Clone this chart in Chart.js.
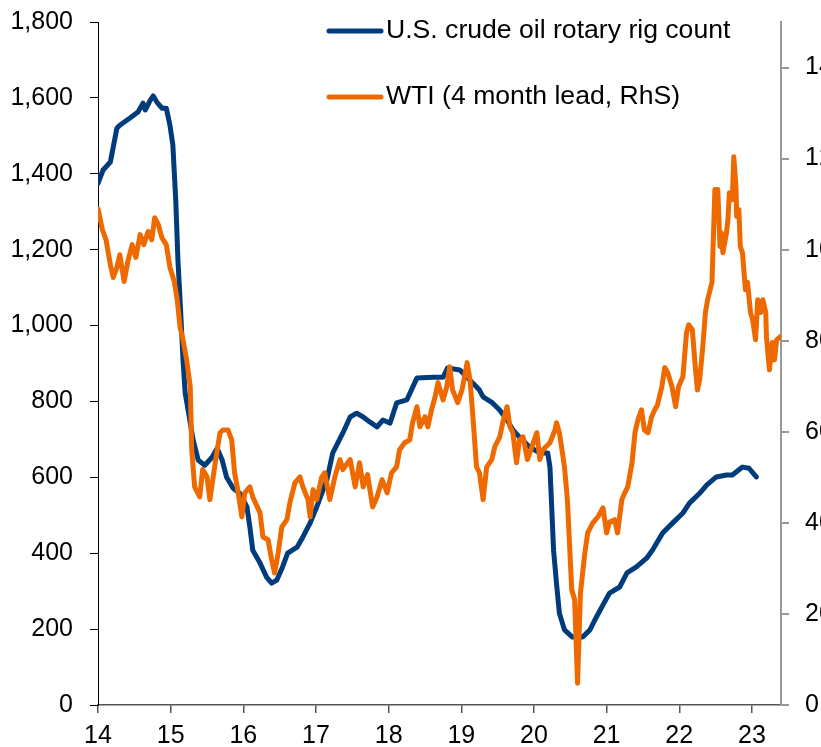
<!DOCTYPE html>
<html>
<head>
<meta charset="utf-8">
<script src="https://cdn.jsdelivr.net/npm/chart.js@4.4.1/dist/chart.umd.min.js"></script>
<style>
html, body { margin: 0; padding: 0; background: #fff; overflow: hidden; }
#wrap { width: 821px; height: 747px; overflow: hidden; }
canvas { display: block; }
</style>
</head>
<body>
<div id="wrap"><canvas id="c" width="860" height="747"></canvas></div>
<script>
// years are 2-digit decimal years (14 = Jan 2014)
var rigLabel = 'U.S. crude oil rotary rig count';
var wtiLabel = 'WTI (4 month lead, RhS)';

var rigYears = [14.00,14.07,14.17,14.26,14.30,14.44,14.55,14.62,14.65,14.72,14.76,14.81,14.88,14.94,14.99,15.03,15.07,15.10,15.13,15.17,15.20,15.31,15.38,15.47,15.57,15.64,15.71,15.77,15.86,15.95,16.05,16.09,16.13,16.23,16.32,16.39,16.46,16.54,16.61,16.74,16.82,16.92,17.01,17.15,17.23,17.37,17.47,17.56,17.65,17.74,17.84,17.92,18.02,18.11,18.25,18.39,18.61,18.75,18.81,18.98,19.12,19.25,19.30,19.43,19.53,19.63,19.71,19.80,19.94,20.08,20.19,20.22,20.24,20.27,20.31,20.35,20.42,20.53,20.67,20.77,20.86,20.95,21.04,21.18,21.28,21.41,21.55,21.63,21.77,21.91,22.05,22.14,22.28,22.38,22.51,22.65,22.73,22.87,22.96,23.06];
var rigCount = [1375,1410,1431,1520,1528,1547,1563,1586,1568,1594,1605,1589,1573,1573,1528,1476,1331,1173,1067,909,822,698,645,632,653,677,645,600,571,558,522,469,408,374,337,321,329,364,400,416,443,480,522,593,664,717,759,769,759,746,733,751,743,796,804,862,864,864,888,883,856,830,812,796,777,751,725,706,680,664,664,627,540,408,321,242,198,179,179,198,232,264,295,311,348,364,387,408,453,480,506,532,558,580,601,606,606,627,624,601];

var wtiYears = [14.00,14.06,14.11,14.17,14.21,14.26,14.30,14.36,14.41,14.47,14.52,14.58,14.63,14.69,14.74,14.78,14.83,14.88,14.94,14.99,15.05,15.09,15.13,15.17,15.22,15.27,15.29,15.33,15.40,15.44,15.50,15.54,15.58,15.64,15.68,15.72,15.79,15.84,15.88,15.93,15.98,16.02,16.09,16.13,16.23,16.27,16.34,16.39,16.43,16.48,16.53,16.60,16.64,16.71,16.78,16.82,16.89,16.92,16.96,17.01,17.08,17.12,17.19,17.26,17.33,17.37,17.47,17.54,17.60,17.65,17.71,17.78,17.84,17.91,17.98,18.04,18.11,18.15,18.22,18.29,18.33,18.39,18.43,18.50,18.54,18.59,18.64,18.68,18.75,18.80,18.84,18.88,18.95,19.01,19.08,19.12,19.16,19.21,19.25,19.30,19.35,19.42,19.46,19.53,19.57,19.63,19.67,19.71,19.76,19.80,19.85,19.91,19.97,20.04,20.08,20.12,20.22,20.29,20.31,20.35,20.40,20.42,20.46,20.52,20.56,20.60,20.64,20.70,20.74,20.81,20.88,20.95,21.00,21.04,21.11,21.15,21.21,21.25,21.29,21.35,21.39,21.43,21.48,21.52,21.57,21.62,21.66,21.70,21.76,21.80,21.84,21.90,21.95,21.99,22.05,22.10,22.13,22.18,22.22,22.25,22.28,22.32,22.36,22.39,22.45,22.49,22.53,22.56,22.58,22.60,22.65,22.67,22.69,22.73,22.75,22.78,22.79,22.82,22.84,22.87,22.91,22.94,22.98,23.01,23.05,23.08,23.12,23.15,23.19,23.20,23.24,23.28,23.31,23.34,23.39];
var wtiPrice = [109.0,104.4,102.2,96.7,93.9,96.1,98.9,93.0,97.4,101.1,98.3,103.3,101.1,104.0,102.2,107.0,105.5,102.6,101.1,96.1,93.0,89.0,82.9,80.2,75.8,69.9,56.0,47.9,45.7,51.7,50.1,45.1,49.5,56.0,59.8,60.4,60.4,58.2,51.0,46.6,41.3,46.6,47.9,45.7,42.2,36.9,36.3,31.9,29.0,33.4,39.1,40.7,44.4,48.8,50.1,47.9,45.1,41.3,47.3,45.1,50.1,51.0,45.1,50.1,53.9,51.7,53.9,47.9,53.2,47.9,50.6,43.5,45.7,49.5,46.6,51.0,52.3,56.0,57.6,58.2,62.0,65.5,61.1,63.3,61.1,64.8,67.7,70.8,67.0,69.9,74.3,69.2,66.4,69.2,75.2,71.4,63.3,52.3,51.0,45.1,52.3,53.9,56.7,58.9,62.0,65.5,61.1,59.8,53.2,58.2,58.9,53.9,56.7,59.8,53.9,56.0,57.6,60.4,62.0,59.8,54.5,52.3,45.1,25.3,23.1,4.8,24.6,33.4,37.8,40.0,41.3,43.3,37.8,40.2,40.7,37.8,45.1,46.6,47.9,53.2,59.8,62.6,64.8,60.4,59.8,63.3,64.8,65.9,69.9,74.1,73.0,69.9,65.5,69.9,72.1,81.8,83.5,82.4,74.3,69.2,71.4,78.0,86.2,89.0,92.8,113.2,113.2,100.7,103.7,99.3,103.7,106.6,112.5,111.0,120.4,113.9,107.3,108.8,100.7,99.3,91.2,92.8,86.2,84.6,80.2,89.0,86.2,89.0,86.2,80.9,73.6,79.6,75.8,80.2,80.9,76.5];

var xTicks = [14,15,16,17,18,19,20,21,22,23];
var leftTicks = [0,200,400,600,800,1000,1200,1400,1600,1800];
var rightTicks = [0,20,40,60,80,100,120,140];

var BLUE = '#003B7B';
var ORANGE = '#EE6A00';
var FONT = { family: "'Liberation Sans', Arial, sans-serif", size: 25 };

function zip(xs, ys) {
    var out = [];
    for (var i = 0; i < Math.min(xs.length, ys.length); i++) out.push({ x: xs[i], y: ys[i] });
    return out;
}
function fixTicks(list) {
    return function(scale) { scale.ticks = list.map(function(v){ return { value: v }; }); };
}
// fixed axis width, and no extra label overhang padding
function fixWidth(w) {
    return function(s) { s.width = w; s.paddingTop = 0; s.paddingBottom = 0; };
}

// legend drawn inside the plot area, top right
var insideLegend = {
    id: 'insideLegend',
    afterDraw: function(chart) {
        var ctx = chart.ctx, a = chart.chartArea;
        var rows = [
            { text: rigLabel, color: BLUE, dy: 9 },
            { text: wtiLabel, color: ORANGE, dy: 75 }
        ];
        ctx.save();
        ctx.font = "26.6px 'Liberation Sans', Arial, sans-serif";
        ctx.textBaseline = 'middle';
        ctx.fillStyle = '#000';
        rows.forEach(function(r) {
            var y = a.top + r.dy;
            ctx.beginPath();
            ctx.strokeStyle = r.color;
            ctx.lineWidth = 5;
            ctx.lineCap = 'round';
            ctx.moveTo(a.left + 231, y);
            ctx.lineTo(a.left + 283, y);
            ctx.stroke();
            ctx.fillText(r.text, a.left + 288, y);
        });
        ctx.restore();
    }
};

new Chart(document.getElementById('c'), {
    type: 'line',
    data: {
        datasets: [
            { label: rigLabel, data: zip(rigYears, rigCount), yAxisID: 'y', borderColor: BLUE, borderWidth: 5, order: 1 },
            { label: wtiLabel, data: zip(wtiYears, wtiPrice), yAxisID: 'y1', borderColor: ORANGE, borderWidth: 5, order: 0 }
        ]
    },
    options: {
        responsive: false,
        animation: false,
        devicePixelRatio: 1,
        layout: { padding: { top: 22, left: 0, right: 0, bottom: 0 } },
        elements: {
            point: { radius: 0 },
            line: { tension: 0, borderJoinStyle: 'round', borderCapStyle: 'round' }
        },
        plugins: { legend: { display: false }, tooltip: { enabled: false } },
        scales: {
            x: {
                type: 'linear', min: 14, max: 23.4,
                afterBuildTicks: fixTicks(xTicks),
                afterFit: function(s){ s.height = 42; s.paddingLeft = 0; s.paddingRight = 0; },
                grid: { drawOnChartArea: false, drawTicks: true, tickLength: 8, color: '#555', lineWidth: 1.5 },
                border: { color: '#555', width: 1.5 },
                ticks: { font: FONT, color: '#000', padding: 8, maxRotation: 0, autoSkip: false,
                         callback: function(v){ return String(v); } }
            },
            y: {
                position: 'left', min: 0, max: 1800,
                afterBuildTicks: fixTicks(leftTicks),
                afterFit: fixWidth(98),
                grid: { drawOnChartArea: false, drawTicks: true, tickLength: 8, color: '#000', lineWidth: 1 },
                border: { color: '#000', width: 1 },
                ticks: { font: FONT, color: '#000', padding: 17,
                         callback: function(v){ return v.toLocaleString('en-US'); } }
            },
            y1: {
                position: 'right', min: 0, max: 150,
                afterBuildTicks: fixTicks(rightTicks),
                afterFit: fixWidth(79),
                grid: { drawOnChartArea: false, drawTicks: true, tickLength: 8, color: '#999', lineWidth: 2 },
                border: { color: '#999', width: 2 },
                ticks: { font: FONT, color: '#000', padding: 16 }
            }
        }
    },
    plugins: [insideLegend]
});
</script>
</body>
</html>
